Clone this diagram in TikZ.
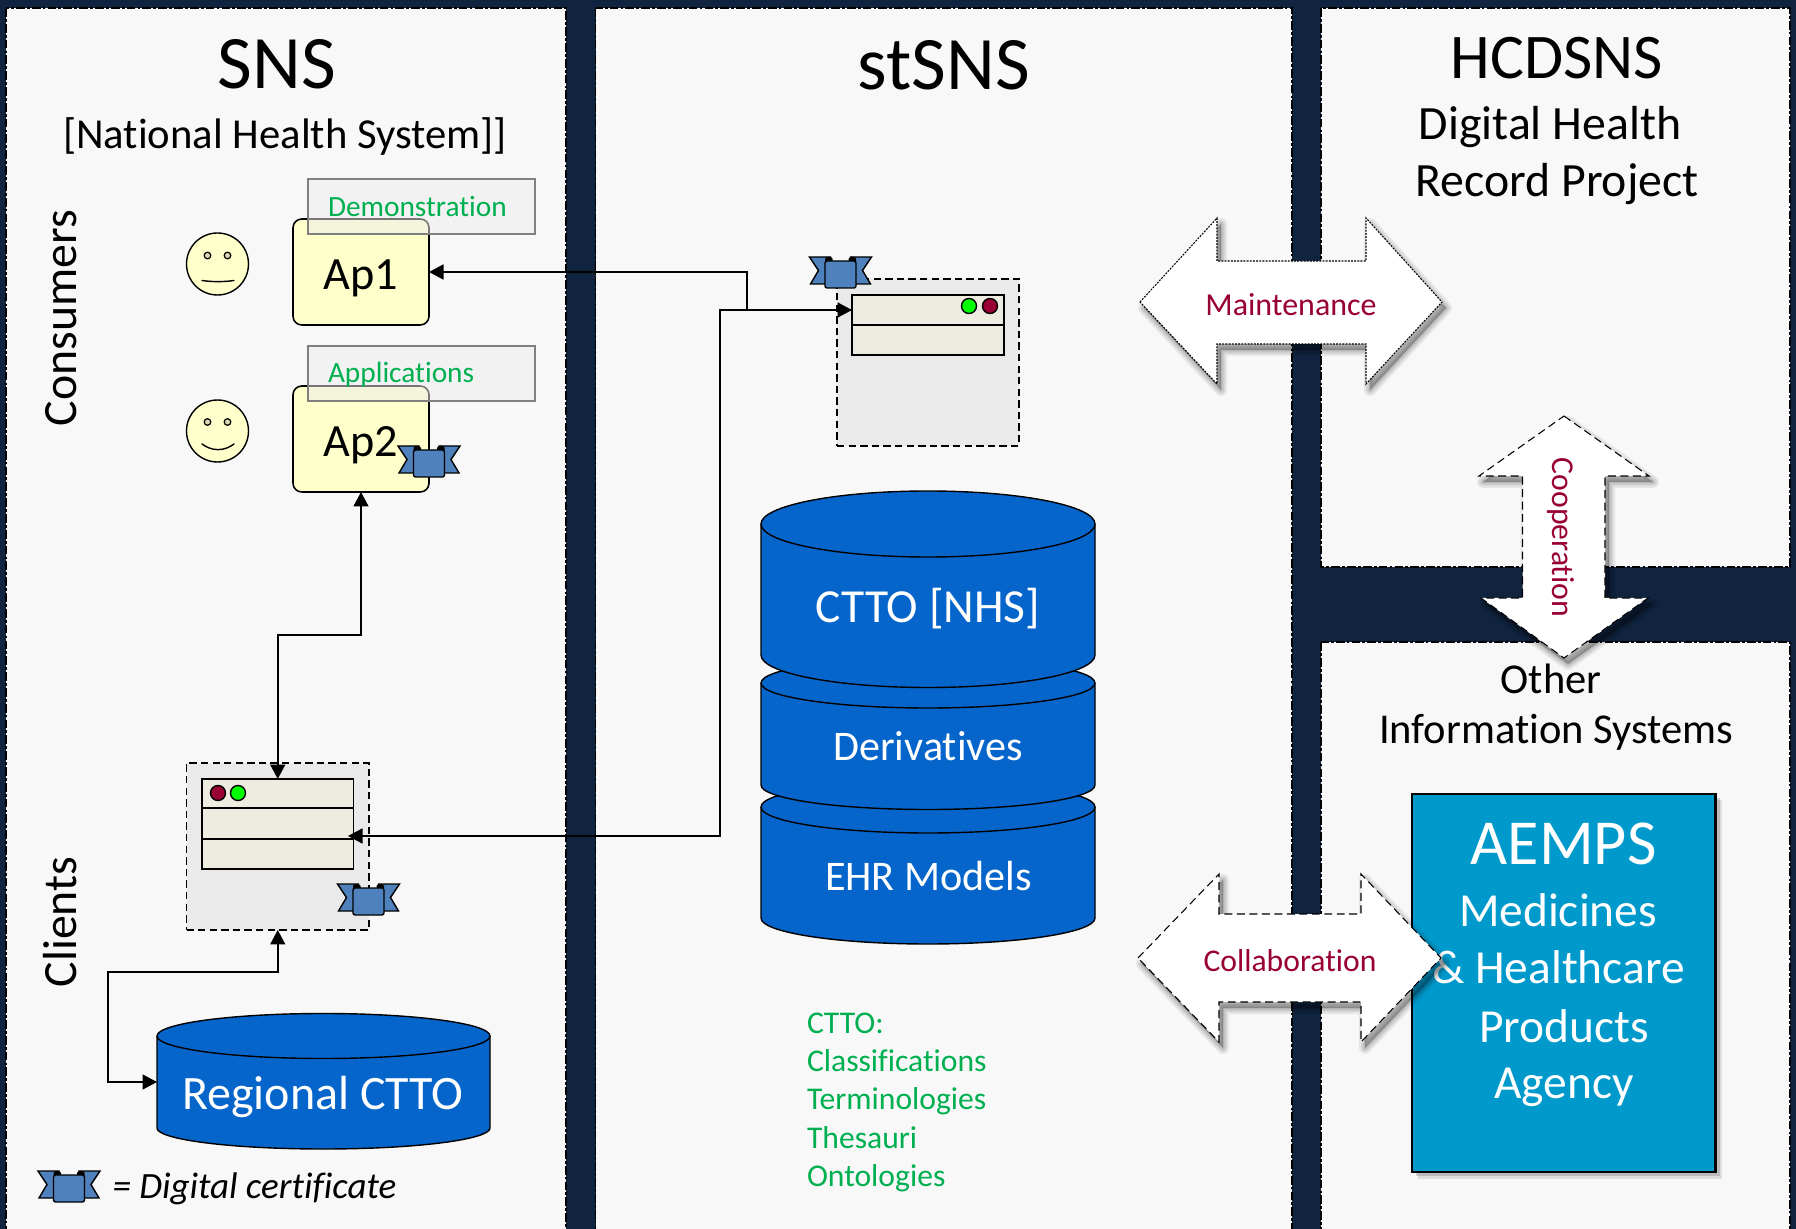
\documentclass[tikz,border=0pt]{standalone}
\usepackage{fontspec}
\setmainfont[Ligatures=CommonOff]{Carlito}
\usetikzlibrary{arrows.meta}
\definecolor{navy}{HTML}{10243F}
\definecolor{panelc}{HTML}{F8F8F8}
\definecolor{cylc}{HTML}{0565CB}
\definecolor{aempsc}{HTML}{0099CC}
\definecolor{certc}{HTML}{4F81BD}
\definecolor{yell}{HTML}{FFFFCC}
\definecolor{srvc}{HTML}{EAEAEA}
\definecolor{winc}{HTML}{EEECE1}
\definecolor{redd}{HTML}{990033}
\definecolor{grn}{HTML}{00FF00}
\definecolor{txtg}{HTML}{00B050}
\newcommand{\pxf}[1]{\fontsize{#1}{#1}\selectfont}
\newcommand{\pxbox}[6]{\node[#1,minimum width={(#5-#3)*0.02cm},minimum height={(#6-#4)*0.02cm}] (#2) at ({(#3+#5)/2},{(#4+#6)/2}) {};}
\newcommand{\cylinderp}[6]{%
 \pgfmathsetmacro\cylKx{#2*0.5523}\pgfmathsetmacro\cylKt{#4*0.5523}\pgfmathsetmacro\cylKb{#6*0.5523}%
 \filldraw[cylstyle] ({#1-#2},#3) -- ({#1-#2},#5) .. controls ({#1-#2},{#5+\cylKb}) and ({#1-\cylKx},{#5+#6}) .. ({#1},{#5+#6}) .. controls ({#1+\cylKx},{#5+#6}) and ({#1+#2},{#5+\cylKb}) .. ({#1+#2},#5) -- ({#1+#2},#3) .. controls ({#1+#2},{#3-\cylKt}) and ({#1+\cylKx},{#3-#4}) .. ({#1},{#3-#4}) .. controls ({#1-\cylKx},{#3-#4}) and ({#1-#2},{#3-\cylKt}) .. ({#1-#2},#3) -- cycle;
 \draw[cylstyle] ({#1-#2},#3) .. controls ({#1-#2},{#3+\cylKt}) and ({#1-\cylKx},{#3+#4}) .. ({#1},{#3+#4}) .. controls ({#1+\cylKx},{#3+#4}) and ({#1+#2},{#3+\cylKt}) .. ({#1+#2},#3);}
\newcommand{\certmark}[2]{\begin{scope}[shift={(#1,#2)},line width=0.8pt,line join=miter]
 \filldraw[fill=certc,draw=black] (-31,0) -- (-10,0) -- (-10,27) -- (-30,27) -- (-22,13.5) -- cycle;
 \filldraw[fill=certc,draw=black] (31,0) -- (10,0) -- (10,27) -- (30,27) -- (22,13.5) -- cycle;
 \fill[black,rounded corners=1pt] (-15.5,0) rectangle (-8,6);
 \fill[black,rounded corners=1pt] (15.5,0) rectangle (8,6);
 \filldraw[fill=certc,draw=black,rounded corners=1.2pt] (-15.5,4) rectangle (15.5,31);
 \end{scope}}
\newcommand{\softpoly}[2]{%
 \begin{scope}[shift={(4,6)},line join=round]
 \foreach \w in {12,8,5,2} {\filldraw[black,draw opacity=0.07,fill opacity=0.07,line width=\w*0.02cm] #2 -- cycle;}
 \end{scope}
 \filldraw[fill=white,draw=black,line width=0.6pt,#1] #2 -- cycle;}
\tikzset{
 lbl/.style={anchor=base,inner sep=0pt,outer sep=0pt,yshift=-0.6pt},
 lblr/.style={anchor=base,inner sep=0pt,outer sep=0pt},
 lblw/.style={anchor=base west,inner sep=0pt,outer sep=0pt,yshift=-0.3pt},
 panel/.style={fill=panelc,draw=black,line width=0.6pt,dash pattern=on 5pt off 1.2pt on 1.6pt off 1.2pt},
 cylstyle/.style={fill=cylc,draw=black,line width=0.8pt},
 appbox/.style={draw=black,fill=yell,line width=0.9pt,rounded corners=5pt,inner sep=0pt,outer sep=0pt},
 tagbox/.style={draw=black!50,line width=0.9pt,fill=black!7,fill opacity=0.5,inner sep=0pt,outer sep=0pt},
 srvbox/.style={draw=black,fill=srvc,line width=0.8pt,dash pattern=on 4.2pt off 2.4pt,inner sep=0pt,outer sep=0pt},
 winbox/.style={draw=black,fill=winc,line width=1pt,inner sep=0pt,outer sep=0pt},
 faceb/.style={circle,draw=black,fill=yell,line width=0.8pt,inner sep=0pt,outer sep=0pt,minimum size=62*0.02cm},
 eyeb/.style={draw=black,fill=yell!70!gray,line width=0.7pt},
 mouth/.style={draw=black,line width=0.8pt,line cap=round},
 lampg/.style={draw=black,fill=grn,line width=0.8pt},
 lampr/.style={draw=black,fill=redd,line width=0.8pt},
 conn/.style={draw=black,line width=0.9pt,>={Triangle[length=0.29cm,width=0.3cm]}},
 dotline/.style={dash pattern=on 1.1pt off 0.7pt},
 dashline/.style={dash pattern=on 4.5pt off 2.6pt},
}
\begin{document}
\begin{tikzpicture}[x=0.02cm,y=-0.02cm]
\path[use as bounding box,clip] (0,0) rectangle (1796,1229);
\fill[navy] (0,0) rectangle (1796,1229);
% panels
\draw[panel] (6,8) rectangle (566,1260);
\draw[panel] (595.5,8) rectangle (1292,1260);
\draw[panel] (1321,8) rectangle (1790,567);
\draw[panel] (1321,642) rectangle (1790,1260);
% titles
\node[lbl,font={\pxf{43}}] (tsns) at (277,87) {SNS};
\node[lbl,font={\pxf{24.3}}] (tnhs) at (285,147) {[National Health System]]};
\node[lbl,font={\pxf{43}}] (tstsns) at (944,88) {stSNS};
\node[lbl,font={\pxf{36.2}}] (thcd) at (1557,77) {HCDSNS};
\node[lbl,font={\pxf{27.2}}] (tdig) at (1550,138) {Digital Health};
\node[lbl,font={\pxf{27.2}}] (trec) at (1557,195) {Record Project};
\node[lblr,font={\pxf{27.2}},rotate=90] (tcons) at (76,318) {Consumers};
\node[lblr,font={\pxf{27.2}},rotate=90] (tcli) at (76,922) {Clients};
% apps
\pxbox{appbox}{ap1}{293}{219}{429}{325}
\pxbox{appbox}{ap2}{293}{386}{429}{492}
\pxbox{tagbox}{tag1}{308}{179}{535}{234}
\pxbox{tagbox}{tag2}{308}{346}{535}{401}
\node[lblw,font={\pxf{16.7}},text=txtg] (tdem) at (328,216) {Demonstration};
\node[lblw,font={\pxf{16.7}},text=txtg] (tapp) at (328,382) {Applications};
\node[lbl,font={\pxf{26.3}}] (tap1) at (361,288) {Ap1};
\node[lbl,font={\pxf{26.3}}] (tap2) at (361,455) {Ap2};
% faces
\node[faceb] (face1) at (217.5,264) {};
\node[faceb] (face2) at (217.5,431) {};
\filldraw[eyeb] (207.5,255.5) circle (3.3);
\filldraw[eyeb] (227.5,255.5) circle (3.3);
\filldraw[eyeb] (207.5,422) circle (3.3);
\filldraw[eyeb] (227.5,422) circle (3.3);
\draw[mouth] (202,280.5) .. controls (212,282) and (224,282) .. (234,280.5);
\draw[mouth] (202,444) .. controls (212,451.5) and (224,451.5) .. (234,444);
% server 1
\pxbox{srvbox}{srv1}{837}{279}{1019}{446}
\pxbox{winbox}{win1}{852}{295}{1004}{355}
\draw[line width=1pt] (852,325) -- (1004,325);
\filldraw[lampg] (969,306) circle (7.5);
\filldraw[lampr] (990,306) circle (7.5);
% server 2
\pxbox{srvbox}{srv2}{186.5}{763}{369}{930}
\pxbox{winbox}{win2}{202}{779}{353.5}{869}
\draw[line width=1pt] (202,808) -- (353.5,808);
\draw[line width=1pt] (202,839) -- (353.5,839);
\filldraw[lampr] (218,793) circle (7.5);
\filldraw[lampg] (238,793) circle (7.5);
% cylinders
\cylinderp{323.5}{166.5}{1036}{22.5}{1128}{21}
\cylinderp{928}{167}{807}{26}{918}{26}
\cylinderp{928}{167}{683}{25}{785}{24.5}
\cylinderp{928}{167}{524}{33}{655}{32.5}
\node[lbl,font={\pxf{27.3}},text=white] (treg) at (323,1108) {Regional CTTO};
\node[lbl,font={\pxf{27}},text=white] (tctto) at (928,621) {CTTO [NHS]};
\node[lbl,font={\pxf{24}},text=white] (tder) at (928,759) {Derivatives};
\node[lbl,font={\pxf{24}},text=white] (tehr) at (928.5,889) {EHR Models};
% connectors
\coordinate (s1in) at (852,310);
\coordinate (s2in) at (348,836);
\coordinate (jn1) at (747,310);
\coordinate (jn2) at (720,310);
\coordinate (mid1) at (320,635);
\coordinate (lo1) at (200,972);
\coordinate (lo2) at (108,1082);
\coordinate (regw) at (157,1082);
\draw[conn,->] (jn1) |- (ap1.east);
\draw[conn,<->] (s2in) -| (jn2) -- (s1in);
\draw[conn,<->] (win2.north) |- (mid1) -| (ap2.south);
\draw[conn,<->] (srv2.south) |- (lo1) -| (lo2) -- (regw);
% certificates
\certmark{429}{446}
\certmark{840.5}{257}
\certmark{368.5}{884}
\certmark{69}{1171}
\node[lblw,font={\pxf{21.1}\itshape}] (tcert) at (112.5,1198) {= Digital certificate};
% green list
\node[lblw,font={\pxf{18}},text=txtg] (g1) at (807,1033) {CTTO:};
\node[lblw,font={\pxf{18}},text=txtg] (g2) at (807,1071) {Classifications};
\node[lblw,font={\pxf{18}},text=txtg] (g3) at (807,1109) {Terminologies};
\node[lblw,font={\pxf{18}},text=txtg] (g4) at (807,1148) {Thesauri};
\node[lblw,font={\pxf{18}},text=txtg] (g5) at (807,1186) {Ontologies};
% AEMPS
\fill[black,opacity=0.10] (1418,800) rectangle (1722,1179);
\fill[black,opacity=0.16] (1416,798) rectangle (1720,1176);
\pxbox{draw=black,fill=aempsc,line width=1.2pt,inner sep=0pt,outer sep=0pt}{aemps}{1412}{794}{1715.5}{1172}
\node[lbl,font={\pxf{36.5}},text=white] (ta1) at (1563.5,863) {AEMPS};
\node[lbl,font={\pxf{27}},text=white] (ta2) at (1558,925) {Medicines};
\node[lbl,font={\pxf{27}},text=white] (ta3) at (1558.5,982) {\& Healthcare};
\node[lbl,font={\pxf{27}},text=white] (ta4) at (1564,1041) {Products};
\node[lbl,font={\pxf{27}},text=white] (ta5) at (1564,1097) {Agency};
% big arrows
\softpoly{dotline}{(1140,302) -- (1217,218) -- (1217,261) -- (1366,261) -- (1366,218) -- (1442,302) -- (1366,384) -- (1366,344) -- (1217,344) -- (1217,384)}
\node[lbl,font={\pxf{18.2}},text=redd] (tmain) at (1291,314) {Maintenance};
\softpoly{dashline}{(1564,416) -- (1649,476) -- (1605,476) -- (1605,598) -- (1648,598) -- (1564,658) -- (1481,598) -- (1522.5,598) -- (1522.5,476) -- (1479,476)}
\node[lblr,font={\pxf{18.1}},text=redd,rotate=-90] (tcoop) at (1552,537.5) {Cooperation};
\softpoly{dashline}{(1138,958) -- (1219,874) -- (1219,914) -- (1361,914) -- (1361,874) -- (1441,958) -- (1361,1042) -- (1361,1002) -- (1219,1002) -- (1219,1042)}
\node[lbl,font={\pxf{18}},text=redd] (tcoll) at (1290,970) {Collaboration};
% other
\node[lbl,font={\pxf{24.2}}] (toth) at (1551,692) {Other};
\node[lbl,font={\pxf{24.2}}] (tinf) at (1556,742) {Information Systems};
\end{tikzpicture}
\end{document}
